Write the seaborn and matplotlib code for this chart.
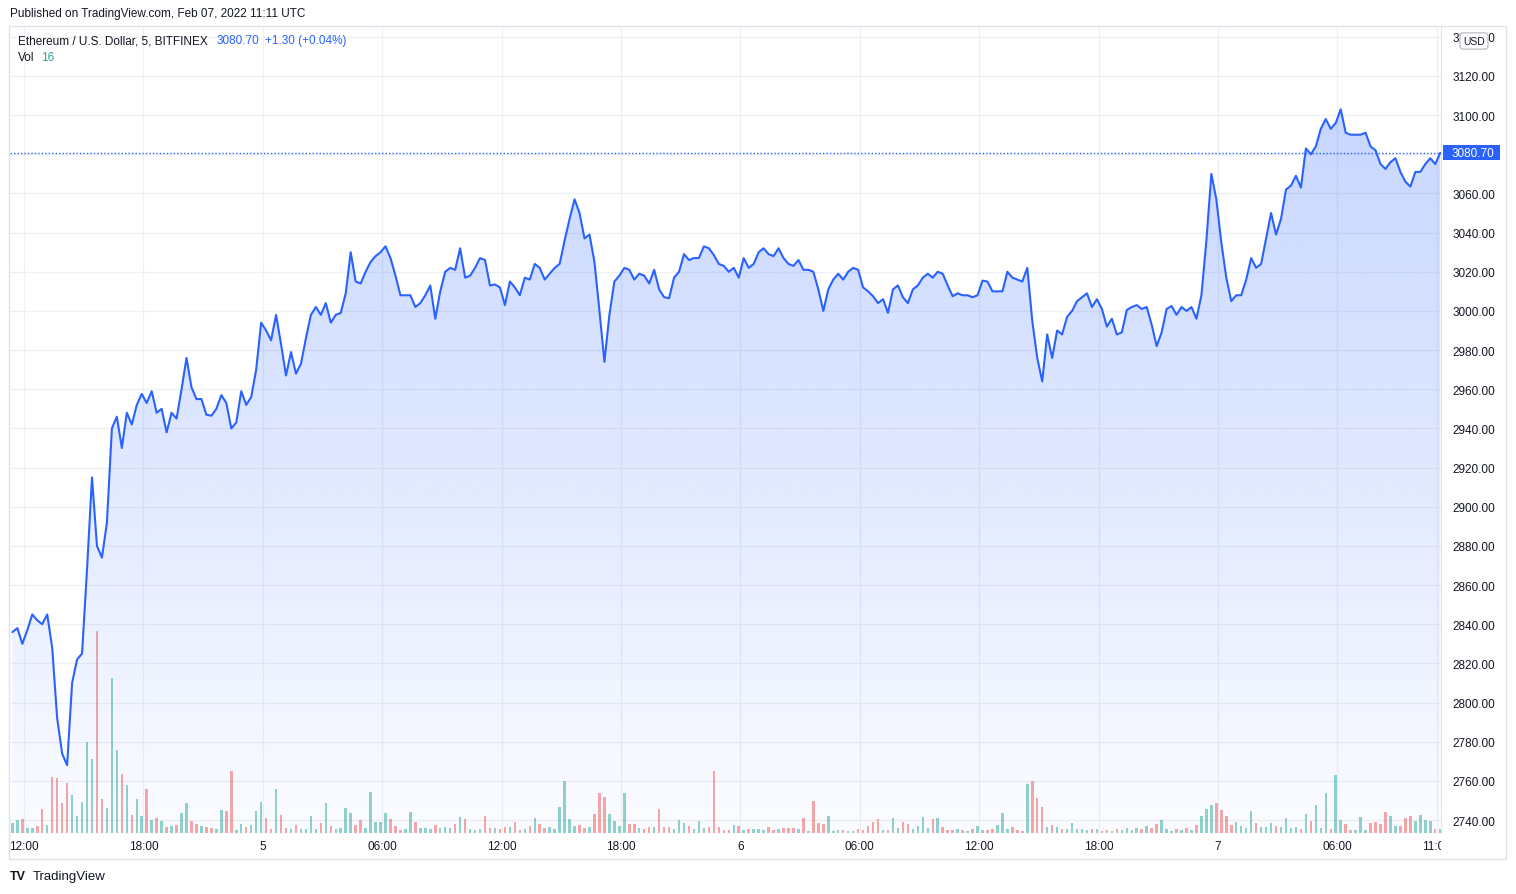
import matplotlib
matplotlib.use("Agg")
import matplotlib.pyplot as plt
import matplotlib.dates as mdates
from matplotlib.patches import Rectangle
from matplotlib.transforms import blended_transform_factory, Bbox, TransformedBbox
import numpy as np
import pandas as pd
import seaborn as sns

# ETH / USD, Bitfinex 5m chart - values at 15 minute steps
start_time = "2022-02-04 11:25"
step = "15min"

close_prices = [
    2836, 2838, 2830, 2837, 2845, 2842, 2840, 2845, 2828, 2792,
    2774, 2768, 2810, 2822, 2825, 2868, 2915, 2880, 2874, 2892,
    2940, 2946, 2930, 2948, 2942, 2952, 2957.6, 2953, 2959, 2948,
    2950, 2938, 2948, 2945, 2960, 2976, 2961, 2955, 2955, 2947,
    2946.5, 2950, 2957, 2953, 2940, 2943, 2959, 2952, 2956, 2970,
    2994, 2990, 2985, 2998, 2983, 2967, 2979, 2968, 2973, 2986,
    2998, 3002, 2998, 3004, 2994, 2998, 2999, 3009, 3030, 3015,
    3014, 3020, 3025, 3028, 3030, 3033, 3027, 3018, 3008, 3008,
    3008, 3002, 3004, 3008, 3013, 2996, 3010, 3020, 3022, 3021,
    3032, 3017, 3018, 3022, 3027, 3026, 3013, 3013.5, 3012, 3003,
    3015, 3012, 3008, 3017, 3016, 3024, 3022, 3016, 3019, 3022,
    3024, 3036, 3047, 3057, 3050, 3037, 3039, 3025, 3000, 2974,
    2998, 3015, 3018, 3022, 3021, 3016, 3019, 3018, 3014, 3021,
    3011, 3007, 3006.5, 3017, 3020, 3029, 3026, 3027, 3027, 3033,
    3032, 3028.5, 3024, 3023, 3020, 3022, 3017, 3027, 3022, 3024,
    3030, 3032, 3029, 3028, 3032, 3027, 3024, 3023, 3026, 3021,
    3021, 3020, 3011, 3000, 3011, 3016, 3019, 3016, 3020, 3022,
    3021, 3012, 3010, 3007.5, 3004, 3006, 2999, 3011, 3013, 3007,
    3004, 3011, 3013, 3017, 3019, 3017, 3020, 3019, 3013, 3007.5,
    3009, 3008, 3008, 3007, 3008, 3015.5, 3015, 3010, 3010, 3010,
    3020, 3017, 3016, 3015, 3022, 2995, 2976, 2964, 2988, 2976,
    2990, 2988, 2997, 3000, 3005, 3007, 3009, 3002, 3006, 3001,
    2992, 2996, 2988, 2989, 3000.5, 3002, 3003, 3001, 3002, 2993,
    2982, 2989, 3001, 3002.5, 2998, 3002, 3000, 3002, 2996, 3008,
    3036, 3070, 3057, 3035, 3017, 3005, 3008, 3008, 3016, 3027,
    3022, 3024, 3037, 3050, 3039, 3047, 3062, 3064, 3069, 3063,
    3083, 3080, 3084, 3093, 3098, 3093, 3096, 3103, 3091, 3090,
    3090, 3090, 3091, 3084, 3082, 3075, 3072.5, 3076, 3078, 3071,
    3066, 3063.5, 3071, 3071, 3075, 3078, 3075, 3080.7,
]

volumes = [
    41, 51, 56, 21, 21, 28, 95, 32, 224, 219,
    120, 199, 152, 68, 124, 364, 293, 804, 135, 99,
    616, 331, 235, 192, 71, 135, 67, 175, 51, 60,
    48, 25, 27, 32, 79, 120, 48, 36, 28, 23,
    21, 16, 91, 88, 248, 11, 35, 25, 32, 88,
    124, 59, 15, 175, 72, 21, 15, 32, 15, 15,
    68, 15, 40, 120, 29, 15, 21, 99, 79, 32,
    52, 21, 164, 44, 44, 80, 57, 28, 12, 15,
    84, 44, 21, 21, 15, 32, 19, 25, 21, 37,
    64, 57, 15, 11, 15, 68, 21, 21, 16, 25,
    23, 45, 12, 16, 29, 61, 37, 20, 25, 17,
    105, 205, 56, 27, 33, 20, 23, 77, 159, 145,
    76, 49, 29, 161, 37, 37, 20, 17, 25, 25,
    97, 25, 25, 17, 53, 41, 29, 15, 49, 20,
    25, 245, 25, 12, 12, 33, 29, 12, 16, 17,
    17, 13, 25, 13, 17, 20, 20, 20, 17, 61,
    9, 129, 41, 37, 69, 9, 12, 12, 9, 9,
    17, 12, 29, 45, 57, 13, 13, 61, 20, 45,
    37, 17, 29, 65, 20, 57, 61, 25, 13, 13,
    17, 12, 9, 17, 29, 12, 12, 16, 32, 80,
    16, 24, 12, 8, 197, 208, 140, 104, 24, 32,
    24, 16, 16, 40, 16, 16, 12, 16, 16, 8,
    12, 8, 16, 12, 19, 12, 19, 16, 28, 19,
    36, 52, 16, 8, 16, 12, 20, 12, 32, 68,
    96, 112, 120, 92, 68, 32, 44, 28, 21, 88,
    40, 24, 24, 40, 27, 24, 60, 19, 24, 16,
    76, 48, 112, 19, 160, 16, 232, 52, 36, 12,
    12, 64, 12, 40, 44, 36, 84, 68, 27, 28,
    60, 68, 48, 72, 52, 48, 16, 16,
]

y_ticks = list(range(2740, 3141, 20))
x_tick_times = [
    "2022-02-04 12:00", "2022-02-04 18:00", "2022-02-05 00:00", "2022-02-05 06:00",
    "2022-02-05 12:00", "2022-02-05 18:00", "2022-02-06 00:00", "2022-02-06 06:00",
    "2022-02-06 12:00", "2022-02-06 18:00", "2022-02-07 00:00", "2022-02-07 06:00",
    "2022-02-07 11:00",
]
x_tick_labels = ["12:00", "18:00", "5", "06:00", "12:00", "18:00", "6",
                 "06:00", "12:00", "18:00", "7", "06:00", "11:00"]

last_price = 3080.70
change = 1.30
change_pct = 0.04

df = pd.DataFrame({
    "time": pd.date_range(start_time, periods=len(close_prices), freq=step),
    "close": close_prices,
    "volume": volumes,
})

blue = "#2962ff"
text_col = "#131722"
border_col = "#e0e3eb"

sns.set_style("white")
plt.rcParams["font.family"] = ["Liberation Sans", "DejaVu Sans"]

W, H = 1516, 895
fig = plt.figure(figsize=(W / 100, H / 100), dpi=100)


def fx(px):
    return px / W


def fy(py):
    return 1 - py / H


ax = fig.add_axes([fx(10), fy(834), fx(1441) - fx(10), fy(28) - fy(834)])

day0 = pd.Timestamp("2022-02-04")
x_lo = mdates.date2num(day0 + pd.Timedelta(hours=11.2965))
x_hi = mdates.date2num(day0 + pd.Timedelta(hours=83.206))
y_lo, y_hi = 2733.4, 3145.0

# gradient area under the line
top = max(close_prices)
n = 256
img = np.zeros((n, 1, 4))
img[:, 0, :3] = matplotlib.colors.to_rgb(blue)
img[:, 0, 3] = np.linspace(0.26, 0.02, n)
fill = ax.fill_between(df["time"], df["close"], y_lo, color="none", lw=0)
im = ax.imshow(img, extent=[x_lo, x_hi, y_lo, top], aspect="auto",
               origin="upper", zorder=1, interpolation="bilinear")
im.set_clip_path(fill.get_paths()[0], transform=ax.transData)

sns.lineplot(data=df, x="time", y="close", ax=ax, color=blue,
             linewidth=1.5, zorder=3, solid_joinstyle="round")
ax.axhline(last_price, color=blue, lw=1.0, ls=(0, (1, 1.5)), zorder=2)

ax.set_xlim(x_lo, x_hi)
ax.set_ylim(y_lo, y_hi)
ax.set_xlabel("")
ax.set_ylabel("")

# volume pane
up = np.diff(np.array(close_prices), prepend=close_prices[0]) >= 0
bar_cols = [(38 / 255, 166 / 255, 154 / 255, 0.5) if u else (239 / 255, 83 / 255, 80 / 255, 0.5)
            for u in up]
ax_vol = ax.twinx()
ax_vol.bar(df["time"], df["volume"], width=15 / 1440 * 0.5, color=bar_cols, lw=0)
ax_vol.set_ylim(0, max(volumes) * 806 / 202)
ax_vol.set_xlim(x_lo, x_hi)
ax_vol.set_axis_off()

ax.yaxis.tick_right()
ax.set_yticks(y_ticks)
ax.set_yticklabels([f"{v:.2f}" for v in y_ticks])
ax.set_xticks([mdates.date2num(pd.Timestamp(t)) for t in x_tick_times])
ax.set_xticklabels(x_tick_labels)
ax.tick_params(axis="y", length=0, pad=8, labelsize=8.5, labelcolor=text_col)
ax.tick_params(axis="x", length=0, pad=5, labelsize=8.5, labelcolor=text_col)
ax.grid(True, color="#eef0f4", lw=1)
ax.set_axisbelow(True)
for s in ax.spines.values():
    s.set_visible(False)
ax.spines["right"].set_visible(True)
ax.spines["right"].set_color(border_col)

last_lbl = ax.get_xticklabels()[-1]
last_lbl.set_clip_on(True)
last_lbl.set_clip_box(TransformedBbox(Bbox.from_extents(0, 0, fx(1441), 1), fig.transFigure))

# last price marker on the price scale
tr = blended_transform_factory(ax.transAxes, ax.transData)
ax.add_patch(Rectangle((1.0014, last_price - 3.83), 0.0398, 7.66, transform=tr,
                       facecolor=blue, edgecolor="none", clip_on=False, zorder=5))
ax.text(1.0077, last_price, f"{last_price:.2f}", transform=tr, color="white",
        fontsize=8.5, va="center", ha="left", zorder=6, clip_on=False)

# currency badge sits over the top price label, as on the original
fig.text(fx(1474), fy(42), "USD", fontsize=7.5, color=text_col, ha="center", va="center",
         bbox=dict(boxstyle="round,pad=0.3", fc="white", ec="#b2b5be", lw=0.8))

# frame
fig.add_artist(Rectangle((fx(9), fy(860)), fx(1506) - fx(9), fy(27) - fy(860),
                         transform=fig.transFigure, fill=False, ec=border_col, lw=1))

fig.text(fx(10), fy(14), "Published on TradingView.com, Feb 07, 2022 11:11 UTC",
         fontsize=8.5, color=text_col, va="center")
fig.text(fx(18), fy(41), "Ethereum / U.S. Dollar, 5, BITFINEX", fontsize=8.5,
         color=text_col, va="center")
fig.text(fx(217), fy(41), f"{last_price:.2f}", fontsize=8.5, color=blue, va="center")
fig.text(fx(265), fy(41), f"+{change:.2f} (+{change_pct:.2f}%)", fontsize=8.5,
         color=blue, va="center")
fig.text(fx(18), fy(58), "Vol", fontsize=8.5, color=text_col, va="center")
fig.text(fx(41), fy(58), f"{volumes[-1]}", fontsize=8.5, color="#26a69a", va="center")

fig.text(fx(10), fy(877), "TV", fontsize=9, fontweight="heavy", color=text_col, va="center")
fig.text(fx(33), fy(877), "TradingView", fontsize=9.5, color=text_col, va="center")

fig.savefig("out.png", dpi=100)
